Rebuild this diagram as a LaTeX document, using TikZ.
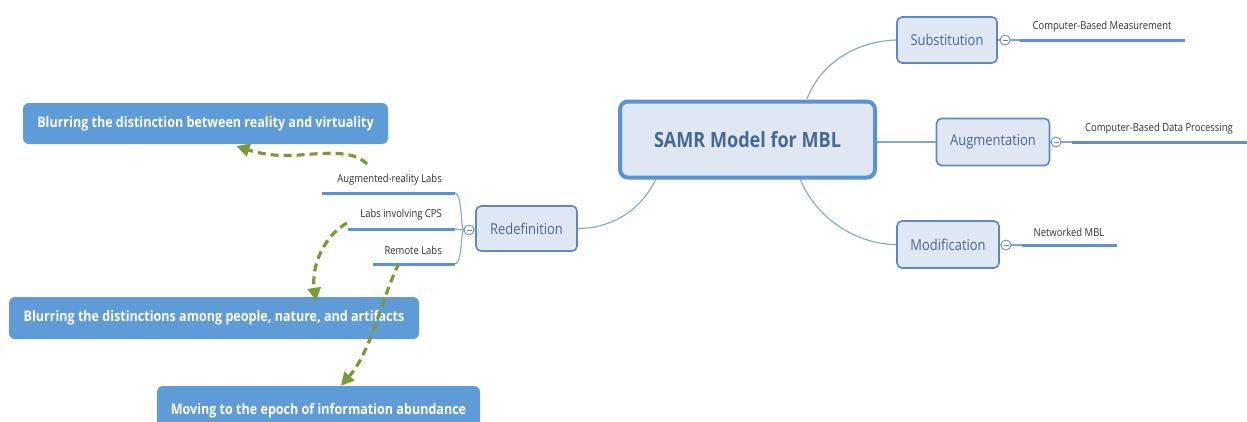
\documentclass[tikz,border=0pt]{standalone}
\usepackage{fontspec}
\setmainfont{Open Sans}[FakeStretch=0.86]
\usetikzlibrary{arrows.meta}
\definecolor{cborder}{RGB}{91,146,214}
\definecolor{cfill}{RGB}{222,231,242}
\definecolor{ctext}{RGB}{72,104,145}
\definecolor{cline}{RGB}{125,165,215}
\definecolor{cbox}{RGB}{95,155,215}
\definecolor{cgreen}{RGB}{122,154,58}
\definecolor{cdark}{RGB}{50,50,50}
\tikzset{
  central/.style={draw=cborder,line width=4pt,fill=cfill,rounded corners=8pt,
    minimum width=255pt,minimum height=76pt,text=ctext,
    font=\fontsize{21}{23}\selectfont\bfseries,inner sep=0pt},
  branch/.style={draw=cborder!85!black!90,line width=1.6pt,fill=cfill,rounded corners=5pt,
    text=ctext,font=\fontsize{15}{17}\selectfont,inner sep=0pt},
  knob/.style={circle,draw=cline!80!black,line width=0.8pt,fill=white,minimum size=10pt,inner sep=0pt,
    path picture={\draw[cline!80!black,line width=0.7pt]
      ([xshift=-2.5pt]path picture bounding box.center) -- ([xshift=2.5pt]path picture bounding box.center);}},
  leaf/.style={text=cdark,font=\fontsize{11}{13}\selectfont,inner sep=0pt},
  under/.style={draw=cborder,line width=3pt},
  conn/.style={draw=cline,line width=1.1pt},
  bluebox/.style={fill=cbox,rounded corners=6pt,text=white,
    font=\fontsize{14.6}{16}\selectfont\bfseries,inner sep=0pt},
  garrow/.style={draw=cgreen,line width=3.2pt,dash pattern=on 8pt off 5pt,
    -{Triangle[length=13pt,width=13pt]}},
}
\begin{document}
\begin{tikzpicture}[x=1pt,y=-1pt]
\clip (0,0) rectangle (1247,421);
\fill[white] (0,0) rectangle (1247,421);

% central and branches
\node[central] (c) at (747.5,139.5) {SAMR Model for MBL};
\node[branch,minimum width=100pt,minimum height=46pt] (sub) at (947,40) {Substitution};
\node[branch,minimum width=113pt,minimum height=47pt] (aug) at (993,142) {Augmentation};
\node[branch,minimum width=102pt,minimum height=47pt] (mod) at (948,244.5) {Modification};
\node[branch,minimum width=101pt,minimum height=45pt] (red) at (526.5,228.5) {Redefinition};

% connectors from central
\coordinate (cs) at (807,99);
\coordinate (cm) at (800,179);
\coordinate (cr) at (656,179);
\draw[conn] (cs) .. controls (822,60) and (860,41) .. (sub.west);
\draw[conn] (c.east |- aug.west) -- (aug.west);
\draw[conn] (cm) .. controls (818,222) and (860,244.5) .. (mod.west);
\draw[conn] (cr) .. controls (640,212) and (610,228.5) .. (red.east);

% knobs
\node[knob] (ksub) at (1005,40) {};
\node[knob] (kaug) at (1056,142) {};
\node[knob] (kmod) at (1006,245) {};
\node[knob] (kred) at (469,230) {};

% right leaves
\coordinate (sA) at (1020,40); \coordinate (sB) at (1185,40);
\coordinate (aA) at (1072,142); \coordinate (aB) at (1247,142);
\coordinate (mA) at (1022,245); \coordinate (mB) at (1117,245);
\draw[conn] (sub.east) -- (ksub.west);
\draw[conn] (ksub.east) -- (sA);
\draw[under] (sA) -- (sB);
\draw[conn] (aug.east) -- (kaug.west);
\draw[conn] (kaug.east) -- (aA);
\draw[under] (aA) -- (aB);
\draw[conn] (mod.east) -- (kmod.west);
\draw[conn] (kmod.east) -- (mA);
\draw[under] (mA) -- (mB);
\node[leaf] (lsub) at (1102,27) {Computer-Based Measurement};
\node[leaf] (laug) at (1159,129) {Computer-Based Data Processing};
\node[leaf] (lmod) at (1069,232) {Networked MBL};

% left leaves
\coordinate (r1A) at (322,193); \coordinate (r1B) at (455,193);
\coordinate (r2A) at (348,229); \coordinate (r2B) at (455,229);
\coordinate (r3A) at (373,264); \coordinate (r3B) at (455,264);
\draw[conn] (red.west) -- (kred.east);
\draw[conn] (kred.west) .. controls (461,230) and (462,193) .. (r1B);
\draw[conn] (kred.west) -- (r2B);
\draw[conn] (kred.west) .. controls (461,230) and (462,264) .. (r3B);
\draw[under] (r1A) -- (r1B);
\draw[under] (r2A) -- (r2B);
\draw[under] (r3A) -- (r3B);
\node[leaf,anchor=east] (l1) at (442,180) {Augmented-reality Labs};
\node[leaf,anchor=east] (l2) at (442,215) {Labs involving CPS};
\node[leaf,anchor=east] (l3) at (442,250) {Remote Labs};

% blue boxes
\node[bluebox,minimum width=365pt,minimum height=41pt] (b1) at (205.5,123.5)
  {Blurring the distinction between reality and virtuality};
\node[bluebox,minimum width=410pt,minimum height=42pt] (b2) at (214,318)
  {Blurring the distinctions among people, nature, and artifacts};
\node[bluebox,minimum width=323pt,minimum height=46pt,text depth=0pt] (b3) at (318.5,409)
  {Moving to the epoch of information abundance};

% green arrows
\coordinate (g1) at (367,164);
\coordinate (g2) at (347,223);
\coordinate (g3) at (399,263);
\draw[garrow] (g1) .. controls (355,152) and (335,152) .. (300,155)
  .. controls (275,157) and (258,153) .. ([xshift=31pt,yshift=-2pt]b1.south);
\draw[garrow] (g2) .. controls (324,236) and (311,266) .. ([xshift=102pt,yshift=-4pt]b2.north);
\draw[garrow] (g3) .. controls (381,300) and (372,350) .. ([xshift=22.5pt]b3.north);
\end{tikzpicture}
\end{document}
